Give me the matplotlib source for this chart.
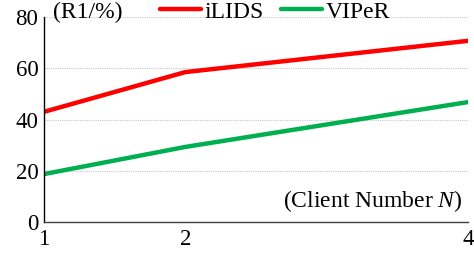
import matplotlib.pyplot as plt

clients = [1, 2, 4]
ilids = [43, 58.5, 70.7]
viper = [18.7, 29.3, 46.8]
yticks = [0, 20, 40, 60, 80]

plt.rcParams['font.family'] = ['Liberation Serif', 'DejaVu Serif']
plt.rcParams['mathtext.fontset'] = 'custom'
plt.rcParams['mathtext.it'] = 'Liberation Serif:italic'
plt.rcParams['mathtext.rm'] = 'Liberation Serif'

W, H = 474, 254
fig = plt.figure(figsize=(W / 100, H / 100), dpi=100)
ax = fig.add_axes([44 / W, 32 / H, 424 / W, 205 / H])

ax.plot(clients, ilids, color='#ff0000', lw=3.2, label='iLIDS', solid_capstyle='round')
ax.plot(clients, viper, color='#00b050', lw=3.2, label='VIPeR', solid_capstyle='round')

ax.set_xlim(1, 4)
ax.set_ylim(0, 80)
ax.set_xticks(clients)
ax.set_yticks(yticks)
ax.tick_params(length=0, labelsize=16.5, pad=5)
ax.tick_params(axis='y', pad=4)

for y in yticks[1:]:
    ax.axhline(y, color='#c8c8c8', lw=0.8, ls=(0, (1, 1)), zorder=0)

for s in ['top', 'right']:
    ax.spines[s].set_visible(False)
ax.spines['left'].set_color('black')
ax.spines['left'].set_linewidth(1.0)
ax.spines['bottom'].set_color('#404040')
ax.spines['bottom'].set_linewidth(1.0)

fig.text(53 / W, 1 - 12 / H, '(R1/%)', fontsize=17, ha='left', va='center')
fig.text(462 / W, 1 - 201 / H, '(Client Number $N$)', fontsize=17,
         ha='right', va='center')

fig.legend(loc='center left', bbox_to_anchor=(160 / W, 1 - 12 / H), ncol=2,
           frameon=False, fontsize=17, handlelength=1.75, handletextpad=0.12,
           columnspacing=0.75, borderpad=0, borderaxespad=0)

fig.savefig('out.png', dpi=100)
